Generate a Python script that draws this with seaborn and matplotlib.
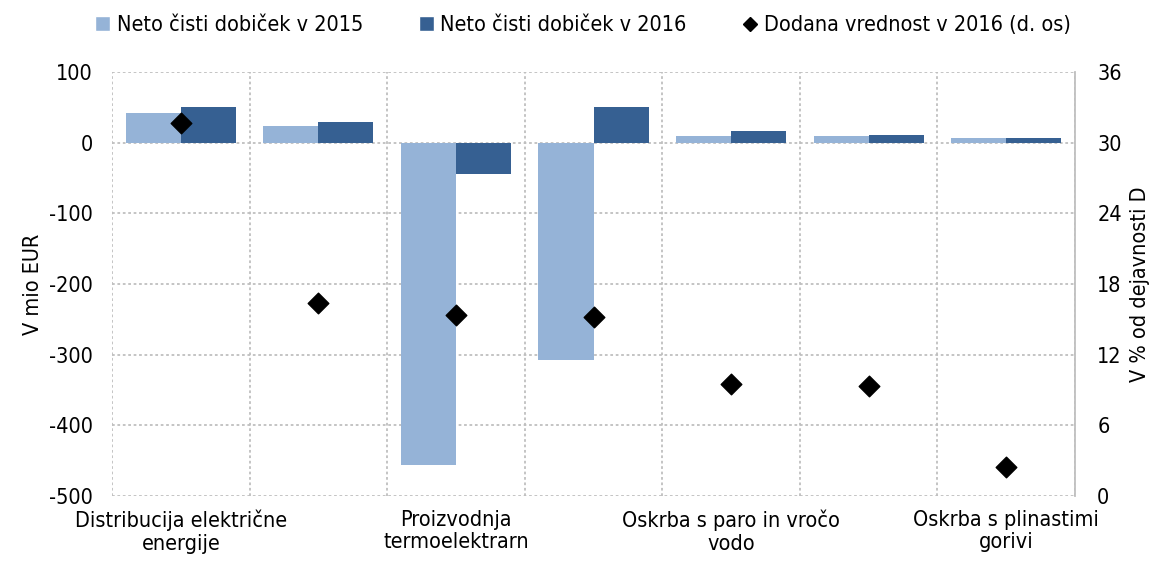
import pandas as pd
import matplotlib.pyplot as plt
import seaborn as sns
from matplotlib.patches import Patch
from matplotlib.lines import Line2D

# Data
categories = [
    'Distribucija električne\nenergije',
    'Trgovanje z električno energijo',
    'Proizvodnja\ntermoelektrarn',
    'Proizvodnja hidroelektrarn',
    'Oskrba s paro in vročo\nvodo',
    'Prenos električne energije',
    'Oskrba s plinastimi\ngorivi',
]
profit_2015 = [42, 24, -456, -308, 9.5, 9.5, 7]
profit_2016 = [50.5, 29, -44.5, 50.5, 16.5, 11, 6.5]
value_added_2016 = [31.7, 16.4, 15.4, 15.2, 9.5, 9.3, 2.5]
series_names = ['Neto čisti dobiček v 2015', 'Neto čisti dobiček v 2016']
line_name = 'Dodana vrednost v 2016 (d. os)'

C2015 = '#95B3D7'
C2016 = '#366092'
GRID = '#BFBFBF'
FS = 15.5

sns.set_theme(style='white')
plt.rcParams['font.family'] = ['DejaVu Sans']
plt.rcParams['font.stretch'] = 'condensed'
plt.rcParams['axes.unicode_minus'] = False
plt.rcParams['text.color'] = 'black'

df = pd.DataFrame({
    'kategorija': categories * 2,
    'vrednost': profit_2015 + profit_2016,
    'serija': [series_names[0]] * len(categories) + [series_names[1]] * len(categories),
})

fig = plt.figure(figsize=(11.5, 5.66), dpi=100)
ax = fig.add_axes([0.0974, 0.1237, 0.8374, 0.7491])

sns.barplot(data=df, x='kategorija', y='vrednost', hue='serija', order=categories,
            palette=[C2015, C2016], width=0.8, saturation=1, ax=ax, legend=False,
            linewidth=0, zorder=3)

ax.set_ylim(-500, 100)
ax.set_yticks(range(-500, 101, 100))
ax.set_xlim(-0.5, len(categories) - 0.5)
ax.set_xticks(range(0, len(categories), 2))
ax.set_xticklabels([categories[i] for i in range(0, len(categories), 2)], linespacing=1.15)
ax.set_xticks([i - 0.5 for i in range(len(categories) + 1)], minor=True)
ax.tick_params(axis='both', which='both', length=0, labelsize=FS, labelcolor='black')
ax.tick_params(axis='x', pad=10)
ax.tick_params(axis='y', pad=14)
ax.grid(True, axis='y', which='major', color=GRID, linestyle=(0, (1.5, 1.5)), linewidth=1.3, zorder=0)
ax.grid(True, axis='x', which='minor', color=GRID, linestyle=(0, (1.5, 1.5)), linewidth=1.3, zorder=0)
ax.grid(False, axis='x', which='major')
for s in ax.spines.values():
    s.set_visible(False)
ax.set_xlabel('')
ax.set_ylabel('V mio EUR', fontsize=FS, labelpad=4, color='black')

ax2 = ax.twinx()
ax2.scatter(range(len(categories)), value_added_2016, marker='D', s=110,
            color='black', zorder=5)
ax2.set_ylim(0, 36)
ax2.set_yticks(range(0, 37, 6))
ax2.tick_params(axis='y', length=0, labelsize=FS, pad=16, labelcolor='black')
for s in ax2.spines.values():
    s.set_visible(False)
ax2.spines['right'].set_visible(True)
ax2.spines['right'].set_color(GRID)
ax2.spines['right'].set_linewidth(1.3)
ax2.set_ylabel('V % od dejavnosti D', fontsize=FS, labelpad=6, color='black')

handles = [
    Patch(facecolor=C2015, label=series_names[0]),
    Patch(facecolor=C2016, label=series_names[1]),
    Line2D([], [], marker='D', color='black', linestyle='none', markersize=7, label=line_name),
]
fig.legend(handles=handles, loc='center', bbox_to_anchor=(0.507, 0.955), ncol=3,
           frameon=False, fontsize=FS, handlelength=0.7, handleheight=0.7,
           handletextpad=0.3, columnspacing=2.6)

plt.savefig('out.png', dpi=100)
